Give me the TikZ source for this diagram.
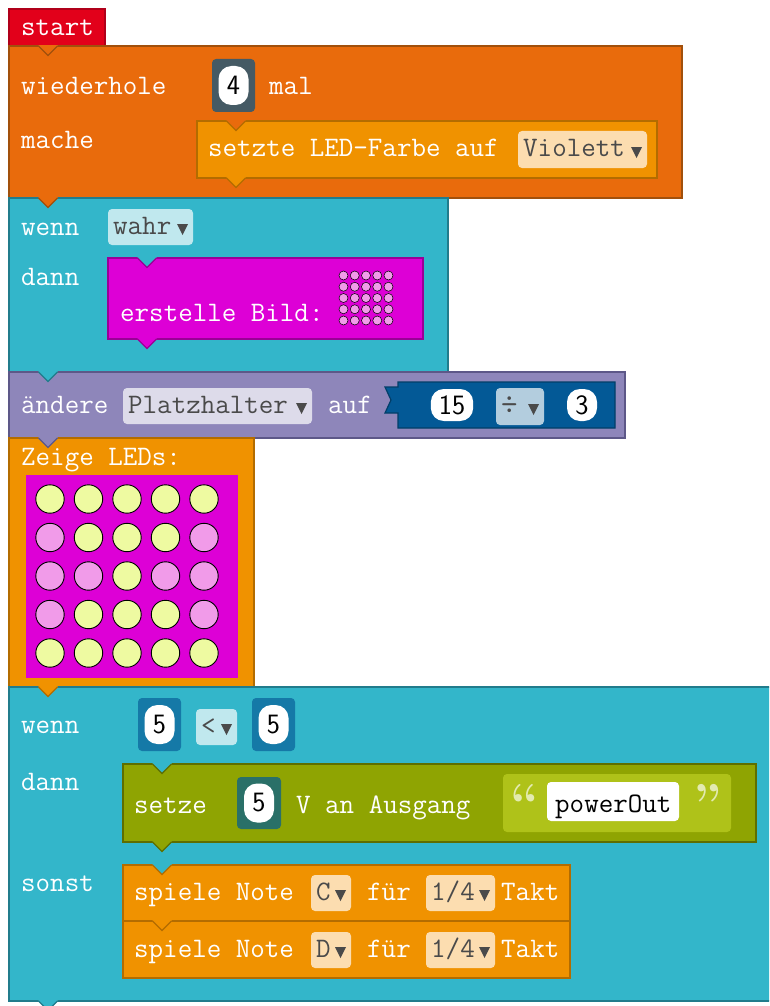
\documentclass[tikz,border=0pt]{standalone}
\usepackage{tikz}
\usetikzlibrary{positioning}
\definecolor{startc}{HTML}{E2001A}
\definecolor{startd}{HTML}{B0001A}
\definecolor{loopc}{HTML}{E96B0C}
\definecolor{loopd}{HTML}{A1500C}
\definecolor{ctrlc}{HTML}{F09200}
\definecolor{ctrld}{HTML}{B36C00}
\definecolor{peach}{HTML}{FCDDB0}
\definecolor{tealc}{HTML}{33B6CA}
\definecolor{teald}{HTML}{217C8C}
\definecolor{cyanl}{HTML}{C0E8EE}
\definecolor{magc}{HTML}{DD00D6}
\definecolor{magd}{HTML}{9A0096}
\definecolor{ledP}{HTML}{F19BE9}
\definecolor{ledY}{HTML}{EEFAA1}
\definecolor{purc}{HTML}{8E86BA}
\definecolor{purd}{HTML}{5D5888}
\definecolor{lav}{HTML}{DDDBEA}
\definecolor{exprc}{HTML}{035996}
\definecolor{exprd}{HTML}{023E68}
\definecolor{steel}{HTML}{B3CDDE}
\definecolor{slate}{HTML}{455A64}
\definecolor{numb}{HTML}{1579A7}
\definecolor{dteal}{HTML}{2A7068}
\definecolor{oliv}{HTML}{8FA402}
\definecolor{olivd}{HTML}{5E6E00}
\definecolor{fieldc}{HTML}{AFC219}
\definecolor{quotec}{HTML}{E3EAB0}
\definecolor{pickgray}{HTML}{4A4A4A}
\newcommand{\mono}{\fontsize{28.2}{32}\selectfont\ttfamily}
\newcommand{\digits}{\fontsize{28}{32}\selectfont\sffamily}
% V between two blocks: x, y, fill, border
\newcommand{\tabv}[4]{%
  \fill[#3] (#1-9.5,#2-0.8) -- (#1+9.5,#2-0.8) -- (#1+9.5,#2) -- (#1,#2+9.5) -- (#1-9.5,#2) -- cycle;
  \draw[#4, blk] (#1-9.5,#2) -- (#1,#2+9.5) -- (#1+9.5,#2);}
% dropdown field: name, x1, y1, x2, y2, fill, text
\newcommand{\pick}[7]{%
  \fill[#6, rounded corners=4pt] (#2,#3) rectangle (#4,#5);
  \node[txt, text=pickgray] (#1) at (#2+5,#5-11) {#7};
  \fill[pickgray] (#4-16,#5-21) -- (#4-5,#5-21) -- (#4-10.5,#5-10) -- cycle;}
% number input: name, x1, y1, x2, y2, fill, digits
\newcommand{\numin}[7]{%
  \fill[#6, rounded corners=4pt] (#2,#3) rectangle (#4,#5);
  \node[oval] (#1) at ({(#2+#4)/2},{(#3+#5)/2}) {#7};}

\begin{document}
\begin{tikzpicture}[x=1pt, y=-1pt,
  txt/.style={inner sep=0pt, anchor=base west, text=white, font=\mono},
  oval/.style={fill=white, rounded corners=13pt, inner xsep=8pt, inner ysep=0pt, minimum height=39pt, minimum width=30pt, font=\digits, text=black},
  quo/.style={inner sep=0pt, anchor=base west, text=quotec, font=\fontsize{52}{52}\selectfont\bfseries},
  blk/.style={line width=1.2pt},
  led/.style={circle, draw=black, line width=0.9pt, minimum size=28.4pt, inner sep=0pt},
  dot/.style={circle, draw=black, line width=0.5pt, minimum size=9pt, inner sep=0pt, fill=ledP}]
\clip (0,0) rectangle (769,1006);
% main stack
\draw[blk, fill=startc, draw=startd] (9,9) rectangle (105,46);
\draw[blk, fill=loopc, draw=loopd] (9,46) rectangle (682,198);
\draw[blk, fill=tealc, draw=teald] (9,198) rectangle (448,372);
\draw[blk, fill=purc, draw=purd] (9,372) rectangle (625,438);
\draw[blk, fill=ctrlc, draw=ctrld] (9,438) rectangle (254,687);
\draw[blk, fill=tealc, draw=teald] (9,687) rectangle (780,1001);
\tabv{48}{46}{loopc}{loopd}
\tabv{48}{198}{loopc}{loopd}
\tabv{48}{372}{tealc}{teald}
\tabv{48}{438}{purc}{purd}
\tabv{48}{687}{ctrlc}{ctrld}
\tabv{48}{1001}{tealc}{teald}
% start + repeat
\node[txt] (start) at (21,36) {start};
\node[txt] (wdh) at (21,95) {wiederhole};
\numin{times}{212}{59}{255}{112}{slate}{4}
\node[txt] (mal) at (269,95) {mal};
\node[txt] (mache) at (21,148) {mache};
\draw[blk, fill=ctrlc, draw=ctrld] (197,121) rectangle (657,178);
\tabv{236}{121}{loopc}{ctrld}
\tabv{236}{178}{ctrlc}{ctrld}
\node[txt] (farbe) at (208,157) {setzte LED-Farbe auf};
\pick{violett}{518}{131}{647}{168}{peach}{Violett}
% first if
\node[txt] (wenn1) at (21,235) {wenn};
\pick{wahr}{108}{209}{193}{245}{cyanl}{wahr}
\node[txt] (dann1) at (21,285) {dann};
\draw[blk, fill=magc, draw=magd] (108,258) rectangle (423,339);
\tabv{147}{258}{tealc}{magd}
\tabv{147}{339}{magc}{magd}
\node[txt] (bild) at (120,321) {erstelle Bild:};
\foreach \r in {0,...,4}
  \foreach \c in {0,...,4}
    \node[dot] (dot-\r-\c) at (343.5+11.25*\c, 275.5+11.25*\r) {};
% change variable
\node[txt] (aendere) at (21,413) {ändere};
\pick{platz}{123}{388}{312}{424}{lav}{Platzhalter}
\node[txt] (auf) at (328,413) {auf};
\draw[blk, fill=exprc, draw=exprd] (398,382) -- (615,382) -- (615,428) -- (398,428) -- (398,413)
  -- (385,413) -- (391,400) -- (385,387) -- (398,387) -- cycle;
\node[oval, minimum height=32pt] (fifteen) at (452,405) {15};
\pick{div}{496}{388}{544}{425}{steel}{\fontsize{32}{32}\selectfont÷}
\node[oval, minimum height=32pt] (three) at (582,405) {3};
% show leds
\node[txt] (zeige) at (21,465) {Zeige LEDs:};
\fill[magc] (26,475) rectangle (238,678);
\foreach \row [count=\r from 0] in {{Y,Y,Y,Y,Y},{P,Y,Y,Y,P},{P,P,Y,P,P},{P,Y,Y,Y,P},{Y,Y,Y,Y,Y}}
  \foreach \v [count=\c from 0] in \row
    \node[led, fill=led\v] (led-\r-\c) at (50+38.5*\c, 499+38.5*\r) {};
% second if
\node[txt] (wenn2) at (21,733) {wenn};
\numin{lhs}{138}{698}{181}{751}{numb}{5}
\pick{less}{196}{709}{237}{745}{cyanl}{<}
\numin{rhs}{252}{698}{295}{751}{numb}{5}
\node[txt] (dann2) at (21,790) {dann};
\draw[blk, fill=oliv, draw=olivd] (123,764) rectangle (756,842);
\tabv{162}{764}{tealc}{olivd}
\tabv{162}{842}{oliv}{olivd}
\node[txt] (setze) at (134,813) {setze};
\numin{volt}{237}{777}{281}{829}{dteal}{5}
\node[txt] (ausgang) at (296,813) {V an Ausgang};
\fill[fieldc, rounded corners=4pt] (503,774) rectangle (731,832);
\node[quo] (qopen) at (510,820) {“};
\fill[white, rounded corners=4pt] (547,782) rectangle (679,821);
\node[txt, text=black] (pin) at (555,812) {powerOut};
\node[quo] (qclose) at (693,820) {”};
\node[txt] (sonst) at (21,891) {sonst};
\draw[blk, fill=ctrlc, draw=ctrld] (123,865) rectangle (570,921);
\draw[blk, fill=ctrlc, draw=ctrld] (123,921) rectangle (570,978);
\tabv{162}{865}{tealc}{ctrld}
\tabv{162}{921}{ctrlc}{ctrld}
\node[txt] (noteA) at (134,900) {spiele Note};
\pick{tonC}{311}{875}{351}{911}{peach}{C}
\node[txt] (fuerA) at (367,900) {für};
\pick{lenA}{426}{875}{495}{911}{peach}{1/4}
\node[txt] (taktA) at (501,900) {Takt};
\node[txt] (noteB) at (134,957) {spiele Note};
\pick{tonD}{311}{932}{351}{968}{peach}{D}
\node[txt] (fuerB) at (367,957) {für};
\pick{lenB}{426}{932}{495}{968}{peach}{1/4}
\node[txt] (taktB) at (501,957) {Takt};
\end{tikzpicture}
\end{document}
